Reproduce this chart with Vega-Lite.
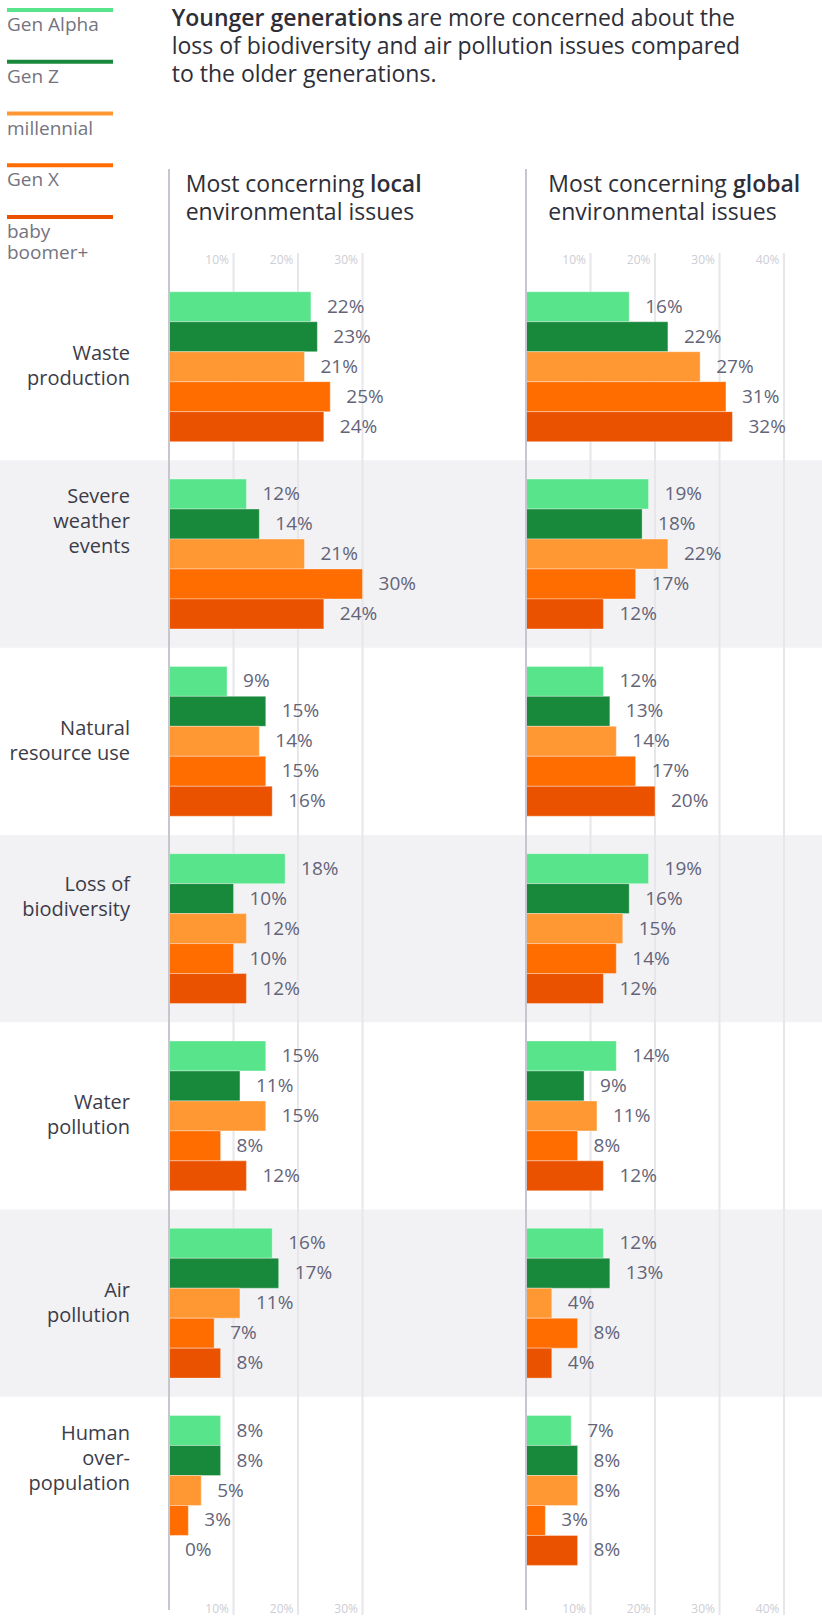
{
  "$schema": "https://vega.github.io/schema/vega-lite/v6.json",
  "width": 822,
  "height": 1362,
  "autosize": {"type": "none"},
  "padding": {"left": 0, "top": 253, "right": 0, "bottom": 8},
  "background": "white",
  "config": {
    "view": {"stroke": null},
    "font": "Open Sans"
  },
  "datasets": {
    "cats": [
      {"category": "Waste production", "label": "Waste|production"},
      {"category": "Severe weather events", "label": "Severe|weather|events"},
      {"category": "Natural resource use", "label": "Natural|resource use"},
      {"category": "Loss of biodiversity", "label": "Loss of|biodiversity"},
      {"category": "Water pollution", "label": "Water|pollution"},
      {"category": "Air pollution", "label": "Air|pollution"},
      {"category": "Human over-population", "label": "Human|over-|population"}
    ],
    "bars": [
      {"scope": "local", "category": "Waste production", "generation": "Gen Alpha", "value": 0.22},
      {"scope": "local", "category": "Waste production", "generation": "Gen Z", "value": 0.23},
      {"scope": "local", "category": "Waste production", "generation": "millennial", "value": 0.21},
      {"scope": "local", "category": "Waste production", "generation": "Gen X", "value": 0.25},
      {"scope": "local", "category": "Waste production", "generation": "baby boomer+", "value": 0.24},
      {"scope": "local", "category": "Severe weather events", "generation": "Gen Alpha", "value": 0.12},
      {"scope": "local", "category": "Severe weather events", "generation": "Gen Z", "value": 0.14},
      {"scope": "local", "category": "Severe weather events", "generation": "millennial", "value": 0.21},
      {"scope": "local", "category": "Severe weather events", "generation": "Gen X", "value": 0.30},
      {"scope": "local", "category": "Severe weather events", "generation": "baby boomer+", "value": 0.24},
      {"scope": "local", "category": "Natural resource use", "generation": "Gen Alpha", "value": 0.09},
      {"scope": "local", "category": "Natural resource use", "generation": "Gen Z", "value": 0.15},
      {"scope": "local", "category": "Natural resource use", "generation": "millennial", "value": 0.14},
      {"scope": "local", "category": "Natural resource use", "generation": "Gen X", "value": 0.15},
      {"scope": "local", "category": "Natural resource use", "generation": "baby boomer+", "value": 0.16},
      {"scope": "local", "category": "Loss of biodiversity", "generation": "Gen Alpha", "value": 0.18},
      {"scope": "local", "category": "Loss of biodiversity", "generation": "Gen Z", "value": 0.10},
      {"scope": "local", "category": "Loss of biodiversity", "generation": "millennial", "value": 0.12},
      {"scope": "local", "category": "Loss of biodiversity", "generation": "Gen X", "value": 0.10},
      {"scope": "local", "category": "Loss of biodiversity", "generation": "baby boomer+", "value": 0.12},
      {"scope": "local", "category": "Water pollution", "generation": "Gen Alpha", "value": 0.15},
      {"scope": "local", "category": "Water pollution", "generation": "Gen Z", "value": 0.11},
      {"scope": "local", "category": "Water pollution", "generation": "millennial", "value": 0.15},
      {"scope": "local", "category": "Water pollution", "generation": "Gen X", "value": 0.08},
      {"scope": "local", "category": "Water pollution", "generation": "baby boomer+", "value": 0.12},
      {"scope": "local", "category": "Air pollution", "generation": "Gen Alpha", "value": 0.16},
      {"scope": "local", "category": "Air pollution", "generation": "Gen Z", "value": 0.17},
      {"scope": "local", "category": "Air pollution", "generation": "millennial", "value": 0.11},
      {"scope": "local", "category": "Air pollution", "generation": "Gen X", "value": 0.07},
      {"scope": "local", "category": "Air pollution", "generation": "baby boomer+", "value": 0.08},
      {"scope": "local", "category": "Human over-population", "generation": "Gen Alpha", "value": 0.08},
      {"scope": "local", "category": "Human over-population", "generation": "Gen Z", "value": 0.08},
      {"scope": "local", "category": "Human over-population", "generation": "millennial", "value": 0.05},
      {"scope": "local", "category": "Human over-population", "generation": "Gen X", "value": 0.03},
      {"scope": "local", "category": "Human over-population", "generation": "baby boomer+", "value": 0.0},
      {"scope": "global", "category": "Waste production", "generation": "Gen Alpha", "value": 0.16},
      {"scope": "global", "category": "Waste production", "generation": "Gen Z", "value": 0.22},
      {"scope": "global", "category": "Waste production", "generation": "millennial", "value": 0.27},
      {"scope": "global", "category": "Waste production", "generation": "Gen X", "value": 0.31},
      {"scope": "global", "category": "Waste production", "generation": "baby boomer+", "value": 0.32},
      {"scope": "global", "category": "Severe weather events", "generation": "Gen Alpha", "value": 0.19},
      {"scope": "global", "category": "Severe weather events", "generation": "Gen Z", "value": 0.18},
      {"scope": "global", "category": "Severe weather events", "generation": "millennial", "value": 0.22},
      {"scope": "global", "category": "Severe weather events", "generation": "Gen X", "value": 0.17},
      {"scope": "global", "category": "Severe weather events", "generation": "baby boomer+", "value": 0.12},
      {"scope": "global", "category": "Natural resource use", "generation": "Gen Alpha", "value": 0.12},
      {"scope": "global", "category": "Natural resource use", "generation": "Gen Z", "value": 0.13},
      {"scope": "global", "category": "Natural resource use", "generation": "millennial", "value": 0.14},
      {"scope": "global", "category": "Natural resource use", "generation": "Gen X", "value": 0.17},
      {"scope": "global", "category": "Natural resource use", "generation": "baby boomer+", "value": 0.20},
      {"scope": "global", "category": "Loss of biodiversity", "generation": "Gen Alpha", "value": 0.19},
      {"scope": "global", "category": "Loss of biodiversity", "generation": "Gen Z", "value": 0.16},
      {"scope": "global", "category": "Loss of biodiversity", "generation": "millennial", "value": 0.15},
      {"scope": "global", "category": "Loss of biodiversity", "generation": "Gen X", "value": 0.14},
      {"scope": "global", "category": "Loss of biodiversity", "generation": "baby boomer+", "value": 0.12},
      {"scope": "global", "category": "Water pollution", "generation": "Gen Alpha", "value": 0.14},
      {"scope": "global", "category": "Water pollution", "generation": "Gen Z", "value": 0.09},
      {"scope": "global", "category": "Water pollution", "generation": "millennial", "value": 0.11},
      {"scope": "global", "category": "Water pollution", "generation": "Gen X", "value": 0.08},
      {"scope": "global", "category": "Water pollution", "generation": "baby boomer+", "value": 0.12},
      {"scope": "global", "category": "Air pollution", "generation": "Gen Alpha", "value": 0.12},
      {"scope": "global", "category": "Air pollution", "generation": "Gen Z", "value": 0.13},
      {"scope": "global", "category": "Air pollution", "generation": "millennial", "value": 0.04},
      {"scope": "global", "category": "Air pollution", "generation": "Gen X", "value": 0.08},
      {"scope": "global", "category": "Air pollution", "generation": "baby boomer+", "value": 0.04},
      {"scope": "global", "category": "Human over-population", "generation": "Gen Alpha", "value": 0.07},
      {"scope": "global", "category": "Human over-population", "generation": "Gen Z", "value": 0.08},
      {"scope": "global", "category": "Human over-population", "generation": "millennial", "value": 0.08},
      {"scope": "global", "category": "Human over-population", "generation": "Gen X", "value": 0.03},
      {"scope": "global", "category": "Human over-population", "generation": "baby boomer+", "value": 0.08}
    ]
  },
  "layer": [
    {
      "data": {"name": "cats"},
      "transform": [{"filter": {"field": "category", "oneOf": ["Severe weather events", "Loss of biodiversity", "Air pollution"]}}],
      "mark": {"type": "bar", "color": "#F2F2F5"},
      "encoding": {
        "y": {"field": "category", "type": "nominal", "sort": null, "axis": null,
              "scale": {"domain": ["Waste production", "Severe weather events", "Natural resource use", "Loss of biodiversity", "Water pollution", "Air pollution", "Human over-population"], "paddingInner": 0, "paddingOuter": 0.1359, "align": 0.394}}
      }
    },
    {
      "layer": [
        {
          "data": {"values": [{"t": 0.1}, {"t": 0.2}, {"t": 0.3}]},
          "mark": {"type": "rule", "color": "#E6E6EB", "strokeWidth": 2},
          "encoding": {
            "x": {"field": "t", "type": "quantitative",
                  "scale": {"domain": [0, 0.555], "range": [169, 527], "nice": false, "zero": true},
                  "axis": {"orient": "top", "values": [0.1, 0.2, 0.3], "format": ".0%", "labelAlign": "right", "labelOffset": -5, "labelBaseline": "middle", "labelPadding": -6, "ticks": false, "tickSize": 0, "domain": false, "grid": false, "labelColor": "#CDCDD5", "labelFontSize": 12, "labelFont": "Open Sans", "title": null, "labelFlush": false, "labelOverlap": false}}
          }
        },
        {
          "data": {"name": "bars"},
          "transform": [{"filter": "datum.scope == 'local'"}],
          "mark": {"type": "bar", "stroke": "white", "strokeWidth": 1, "strokeOpacity": 0.35},
          "encoding": {
            "x": {"field": "value", "type": "quantitative",
                  "axis": {"orient": "bottom", "values": [0.1, 0.2, 0.3], "format": ".0%", "labelAlign": "right", "labelOffset": -5, "labelBaseline": "middle", "labelPadding": -7, "ticks": false, "tickSize": 0, "domain": false, "grid": false, "labelColor": "#CDCDD5", "labelFontSize": 12, "labelFont": "Open Sans", "title": null, "labelFlush": false, "labelOverlap": false}},
            "y": {"field": "category", "type": "nominal", "sort": null, "axis": null},
            "yOffset": {"field": "generation", "type": "nominal", "sort": null,
                        "scale": {"domain": ["Gen Alpha", "Gen Z", "millennial", "Gen X", "baby boomer+"], "paddingInner": 0, "paddingOuter": 0.625}},
            "color": {"field": "generation", "type": "nominal", "sort": null,
                      "scale": {"domain": ["Gen Alpha", "Gen Z", "millennial", "Gen X", "baby boomer+"], "range": ["#58E48A", "#18883A", "#FF9832", "#FF6D00", "#EA5200"]},
                      "legend": {"orient": "none", "legendX": 7, "legendY": -232, "direction": "vertical", "title": null,
                                 "symbolType": "M-1,-2.3H9.6V-1.9H-1Z", "symbolSize": 400, "symbolStrokeWidth": 0, "symbolOpacity": 1,
                                 "labelOffset": -20, "labelFont": "Open Sans", "labelFontSize": 19, "labelColor": "#747480", "labelBaseline": "alphabetic",
                                 "rowPadding": 24.75, "padding": 0, "labelLimit": 300,
                                 "labelExpr": "datum.label == 'baby boomer+' ? ['baby', 'boomer+'] : datum.label"}}
          }
        },
        {
          "data": {"name": "bars"},
          "transform": [{"filter": "datum.scope == 'local'"}],
          "mark": {"type": "text", "align": "left", "baseline": "middle", "dx": 16, "fontSize": 19, "color": "#646478"},
          "encoding": {
            "x": {"field": "value", "type": "quantitative", "axis": null},
            "y": {"field": "category", "type": "nominal", "sort": null, "axis": null},
            "yOffset": {"field": "generation", "type": "nominal", "sort": null},
            "text": {"field": "value", "type": "quantitative", "format": ".0%"}
          }
        },
        {
          "data": {"values": [{"t": 0}]},
          "mark": {"type": "rule", "color": "#C6C6CE", "strokeWidth": 2},
          "encoding": {
            "x": {"field": "t", "type": "quantitative", "axis": null},
            "y": {"value": -84},
            "y2": {"value": 1357}
          }
        }
      ],
      "resolve": {"axis": {"x": "independent"}}
    },
    {
      "layer": [
        {
          "data": {"values": [{"t": 0.1}, {"t": 0.2}, {"t": 0.3}, {"t": 0.4}]},
          "mark": {"type": "rule", "color": "#E6E6EB", "strokeWidth": 2},
          "encoding": {
            "x": {"field": "t", "type": "quantitative",
                  "scale": {"domain": [0, 0.4589], "range": [526, 822], "nice": false, "zero": true},
                  "axis": {"orient": "top", "values": [0.1, 0.2, 0.3, 0.4], "format": ".0%", "labelAlign": "right", "labelOffset": -5, "labelBaseline": "middle", "labelPadding": -6, "ticks": false, "tickSize": 0, "domain": false, "grid": false, "labelColor": "#CDCDD5", "labelFontSize": 12, "labelFont": "Open Sans", "title": null, "labelFlush": false, "labelOverlap": false}}
          }
        },
        {
          "data": {"name": "bars"},
          "transform": [{"filter": "datum.scope == 'global'"}],
          "mark": {"type": "bar", "stroke": "white", "strokeWidth": 1, "strokeOpacity": 0.35},
          "encoding": {
            "x": {"field": "value", "type": "quantitative",
                  "axis": {"orient": "bottom", "values": [0.1, 0.2, 0.3, 0.4], "format": ".0%", "labelAlign": "right", "labelOffset": -5, "labelBaseline": "middle", "labelPadding": -7, "ticks": false, "tickSize": 0, "domain": false, "grid": false, "labelColor": "#CDCDD5", "labelFontSize": 12, "labelFont": "Open Sans", "title": null, "labelFlush": false, "labelOverlap": false}},
            "y": {"field": "category", "type": "nominal", "sort": null, "axis": null},
            "yOffset": {"field": "generation", "type": "nominal", "sort": null},
            "color": {"field": "generation", "type": "nominal", "sort": null}
          }
        },
        {
          "data": {"name": "bars"},
          "transform": [{"filter": "datum.scope == 'global'"}],
          "mark": {"type": "text", "align": "left", "baseline": "middle", "dx": 16, "fontSize": 19, "color": "#646478"},
          "encoding": {
            "x": {"field": "value", "type": "quantitative", "axis": null},
            "y": {"field": "category", "type": "nominal", "sort": null, "axis": null},
            "yOffset": {"field": "generation", "type": "nominal", "sort": null},
            "text": {"field": "value", "type": "quantitative", "format": ".0%"}
          }
        },
        {
          "data": {"values": [{"t": 0}]},
          "mark": {"type": "rule", "color": "#C6C6CE", "strokeWidth": 2},
          "encoding": {
            "x": {"field": "t", "type": "quantitative", "axis": null},
            "y": {"value": -84},
            "y2": {"value": 1357}
          }
        }
      ],
      "resolve": {"axis": {"x": "independent"}}
    },
    {
      "data": {"name": "cats"},
      "transform": [{"filter": {"field": "category", "oneOf": ["Waste production", "Natural resource use", "Water pollution", "Air pollution"]}}],
      "mark": {"type": "text", "align": "right", "baseline": "middle", "x": 130, "dy": -12.5, "lineBreak": "|", "lineHeight": 25, "fontSize": 20, "color": "#3C3C48"},
      "encoding": {
        "y": {"field": "category", "type": "nominal", "sort": null, "axis": null},
        "text": {"field": "label", "type": "nominal"}
      }
    },
    {
      "data": {"name": "cats"},
      "transform": [{"filter": {"field": "category", "oneOf": ["Severe weather events", "Human over-population"]}}],
      "mark": {"type": "text", "align": "right", "baseline": "middle", "x": 130, "dy": -57, "lineBreak": "|", "lineHeight": 25, "fontSize": 20, "color": "#3C3C48"},
      "encoding": {
        "y": {"field": "category", "type": "nominal", "sort": null, "axis": null},
        "text": {"field": "label", "type": "nominal"}
      }
    },
    {
      "data": {"name": "cats"},
      "transform": [{"filter": {"field": "category", "oneOf": ["Loss of biodiversity"]}}],
      "mark": {"type": "text", "align": "right", "baseline": "middle", "x": 130, "dy": -44, "lineBreak": "|", "lineHeight": 25, "fontSize": 20, "color": "#3C3C48"},
      "encoding": {
        "y": {"field": "category", "type": "nominal", "sort": null, "axis": null},
        "text": {"field": "label", "type": "nominal"}
      }
    },
    {"data": {"values": [{}]}, "mark": {"type": "text", "x": 171.7, "y": -227, "text": "Younger generations", "fontSize": 23, "fontWeight": 600, "color": "#2E2E38", "align": "left", "baseline": "alphabetic"}},
    {"data": {"values": [{}]}, "mark": {"type": "text", "x": 407, "y": -227, "text": "are more concerned about the", "fontSize": 23, "color": "#2E2E38", "align": "left", "baseline": "alphabetic"}},
    {"data": {"values": [{}]}, "mark": {"type": "text", "x": 171.7, "y": -199, "text": ["loss of biodiversity and air pollution issues compared", "to the older generations."], "lineHeight": 28, "fontSize": 23, "color": "#2E2E38", "align": "left", "baseline": "alphabetic"}},
    {"data": {"values": [{}]}, "mark": {"type": "text", "x": 185.7, "y": -60.7, "text": "Most concerning", "fontSize": 23, "color": "#2E2E38", "align": "left", "baseline": "alphabetic"}},
    {"data": {"values": [{}]}, "mark": {"type": "text", "x": 370, "y": -60.7, "text": "local", "fontSize": 23, "fontWeight": 600, "color": "#2E2E38", "align": "left", "baseline": "alphabetic"}},
    {"data": {"values": [{}]}, "mark": {"type": "text", "x": 185.7, "y": -33, "text": "environmental issues", "fontSize": 23, "color": "#2E2E38", "align": "left", "baseline": "alphabetic"}},
    {"data": {"values": [{}]}, "mark": {"type": "text", "x": 548.3, "y": -60.7, "text": "Most concerning", "fontSize": 23, "color": "#2E2E38", "align": "left", "baseline": "alphabetic"}},
    {"data": {"values": [{}]}, "mark": {"type": "text", "x": 733, "y": -60.7, "text": "global", "fontSize": 23, "fontWeight": 600, "color": "#2E2E38", "align": "left", "baseline": "alphabetic"}},
    {"data": {"values": [{}]}, "mark": {"type": "text", "x": 548.3, "y": -33, "text": "environmental issues", "fontSize": 23, "color": "#2E2E38", "align": "left", "baseline": "alphabetic"}}
  ],
  "resolve": {"scale": {"x": "independent"}}
}
